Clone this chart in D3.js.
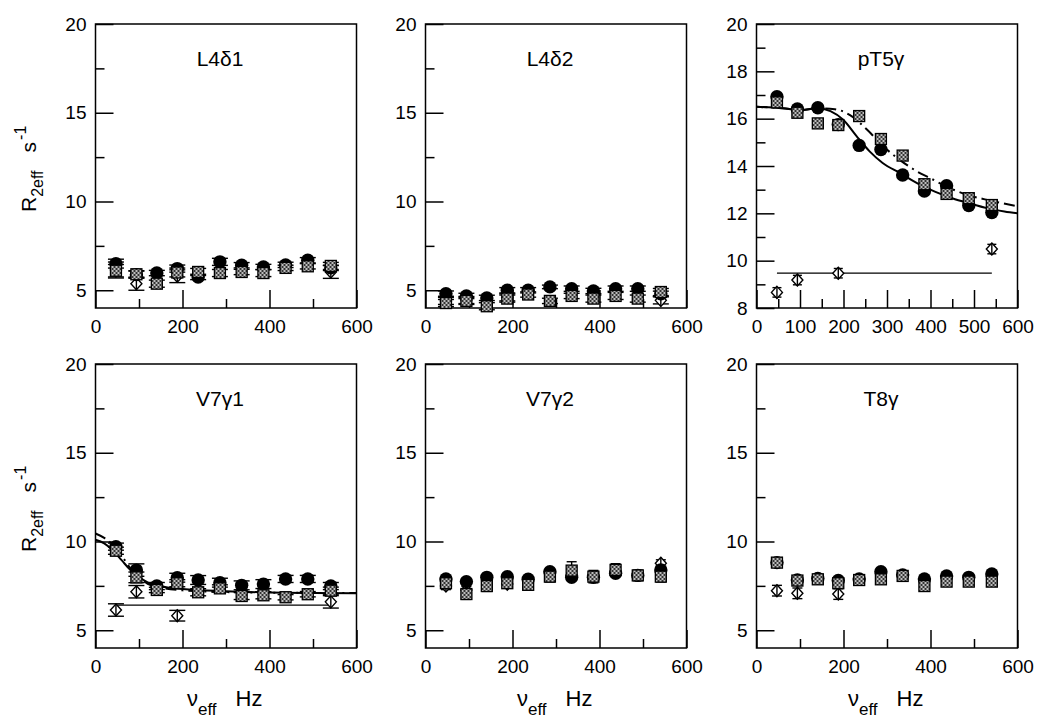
<!DOCTYPE html>
<html><head><meta charset="utf-8">
<script src="https://cdn.jsdelivr.net/npm/d3@7"></script>
<style>
html,body{margin:0;padding:0;background:#fff;}
svg text{font-family:"Liberation Sans",Arial,Helvetica,sans-serif;fill:#000;}
</style></head>
<body>
<svg id="chart" width="1050" height="719"></svg>
<script>
// ---------- data ----------
const xHz = [47, 94, 141, 188, 236, 286, 336, 386, 437, 488, 541];
const diamondHz = [47, 94, 188, 541];
const diamondHzT8 = [47, 94, 188];

const panelTitles = ["L4δ1", "L4δ2", "pT5γ", "V7γ1", "V7γ2", "T8γ"];

// L4δ1
const l4d1Circle = [6.50, 5.88, 5.97, 6.22, 5.75, 6.60, 6.41, 6.31, 6.43, 6.69, 6.26];
const l4d1CircleErr = [0.25, 0.20, 0.15, 0.20, 0.15, 0.20, 0.15, 0.15, 0.15, 0.15, 0.15];
const l4d1Square = [6.10, 5.90, 5.37, 6.00, 6.03, 5.97, 6.03, 5.97, 6.26, 6.35, 6.37];
const l4d1SquareErr = [0.35, 0.20, 0.20, 0.25, 0.20, 0.20, 0.15, 0.20, 0.15, 0.15, 0.20];
const l4d1Diamond = [6.14, 5.37, 5.79, 6.03];
const l4d1DiamondErr = [0.45, 0.37, 0.36, 0.36];

// L4δ2
const l4d2Circle = [4.81, 4.68, 4.57, 5.00, 5.00, 5.19, 5.09, 4.96, 5.09, 5.09, 4.80];
const l4d2CircleErr = [0.15, 0.15, 0.15, 0.15, 0.15, 0.10, 0.15, 0.15, 0.15, 0.15, 0.15];
const l4d2Square = [4.28, 4.40, 4.10, 4.53, 4.76, 4.40, 4.68, 4.53, 4.68, 4.53, 4.90];
const l4d2SquareErr = [0.20, 0.20, 0.20, 0.20, 0.15, 0.15, 0.15, 0.20, 0.20, 0.20, 0.20];
const l4d2Diamond = [4.40, 4.45, 4.60, 4.43];
const l4d2DiamondErr = [0.20, 0.20, 0.20, 0.20];

// pT5γ
const pt5Circle = [16.93, 16.41, 16.46, 15.75, 14.87, 14.70, 13.62, 12.94, 13.17, 12.33, 12.03];
const pt5CircleErr = [0.08, 0.08, 0.08, 0.08, 0.08, 0.08, 0.08, 0.08, 0.08, 0.08, 0.08];
const pt5Square = [16.69, 16.25, 15.80, 15.73, 16.11, 15.14, 14.44, 13.23, 12.82, 12.64, 12.35];
const pt5SquareErr = [0.08, 0.08, 0.08, 0.08, 0.08, 0.08, 0.08, 0.08, 0.08, 0.08, 0.08];
const pt5Diamond = [8.66, 9.18, 9.47, 10.49];
const pt5DiamondErr = [0.2, 0.2, 0.2, 0.2];
const pt5FitCircle = [[0,16.50],[60,16.44],[100,16.36],[140,16.44],[170,16.32],[200,15.94],[230,15.26],[260,14.62],[290,14.13],[330,13.70],[370,13.27],[410,12.92],[450,12.64],[490,12.42],[530,12.22],[570,12.08],[600,12.00]];
const pt5FitSquare = [[0,16.50],[60,16.44],[100,16.36],[140,16.44],[180,16.40],[215,16.15],[255,15.52],[292,14.82],[330,14.25],[370,13.76],[400,13.48],[445,13.06],[485,12.78],[525,12.59],[560,12.45],[600,12.30]];
const pt5FitDiamond = [[47,9.47],[541,9.47]];

// V7γ1
const v7g1Circle = [9.71, 8.39, 7.49, 7.96, 7.83, 7.68, 7.53, 7.60, 7.89, 7.89, 7.49];
const v7g1CircleErr = [0.20, 0.35, 0.20, 0.25, 0.25, 0.25, 0.25, 0.25, 0.20, 0.20, 0.20];
const v7g1Square = [9.48, 7.98, 7.27, 7.65, 7.14, 7.36, 6.93, 6.97, 6.86, 7.03, 7.23];
const v7g1SquareErr = [0.20, 0.30, 0.15, 0.20, 0.20, 0.20, 0.20, 0.20, 0.15, 0.15, 0.20];
const v7g1Diamond = [6.14, 7.17, 5.82, 6.60];
const v7g1DiamondErr = [0.35, 0.35, 0.30, 0.35];
const v7g1FitCircle = [[0,10.10],[20,9.90],[40,9.50],[60,8.95],[80,8.40],[100,8.00],[120,7.70],[150,7.48],[200,7.33],[300,7.20],[400,7.13],[500,7.10],[600,7.08]];
const v7g1FitSquare = [[0,10.45],[20,10.20],[40,9.80],[60,9.20],[80,8.50],[100,7.95],[120,7.62],[150,7.40],[200,7.25],[300,7.15],[400,7.12],[600,7.10]];
const v7g1FitDiamond = [[47,6.42],[541,6.42]];

// V7γ2
const v7g2Circle = [7.89, 7.74, 7.98, 8.02, 7.87, 8.30, 7.98, 7.98, 8.21, 8.09, 8.40];
const v7g2CircleErr = [0.10, 0.10, 0.10, 0.10, 0.10, 0.10, 0.10, 0.10, 0.10, 0.10, 0.10];
const v7g2Square = [7.65, 7.04, 7.49, 7.65, 7.56, 8.02, 8.36, 8.02, 8.40, 8.09, 8.02];
const v7g2SquareErr = [0.20, 0.30, 0.30, 0.25, 0.30, 0.30, 0.50, 0.35, 0.35, 0.30, 0.30];
const v7g2Diamond = [7.49, 7.27, 7.60, 8.77];
const v7g2DiamondErr = [0.20, 0.20, 0.20, 0.20];

// T8γ
const t8Circle = [8.81, 7.83, 7.92, 7.80, 7.89, 8.30, 8.12, 7.89, 8.06, 7.98, 8.17];
const t8CircleErr = [0.08, 0.08, 0.08, 0.08, 0.08, 0.08, 0.08, 0.08, 0.08, 0.08, 0.08];
const t8Square = [8.81, 7.80, 7.87, 7.65, 7.83, 7.87, 8.06, 7.49, 7.74, 7.74, 7.74];
const t8SquareErr = [0.08, 0.08, 0.08, 0.08, 0.08, 0.08, 0.08, 0.08, 0.08, 0.08, 0.08];
const t8Diamond = [7.23, 7.08, 7.04];
const t8DiamondErr = [0.30, 0.30, 0.30];

// ticks
const yMajorStd = [5, 10, 15, 20], yMinorStd = [7.5, 12.5, 17.5];
const yMajorPT5 = [8, 10, 12, 14, 16, 18, 20], yMinorPT5 = [9, 11, 13, 15, 17, 19];
const xMajorStd = [0, 200, 400, 600], xMinorStd = [100, 300, 500];
const xMajorPT5 = [0, 100, 200, 300, 400, 500, 600], xMinorPT5 = [50, 150, 250, 350, 450, 550];

// ---------- panel table built from the arrays ----------
const panels = [
  {title: panelTitles[0], circ: l4d1Circle, circErr: l4d1CircleErr, sq: l4d1Square, sqErr: l4d1SquareErr, diaX: diamondHz, dia: l4d1Diamond, diaErr: l4d1DiamondErr, yDom: [4, 20], yMaj: yMajorStd, yMin: yMinorStd, xMaj: xMajorStd, xMin: xMinorStd, fits: []},
  {title: panelTitles[1], circ: l4d2Circle, circErr: l4d2CircleErr, sq: l4d2Square, sqErr: l4d2SquareErr, diaX: diamondHz, dia: l4d2Diamond, diaErr: l4d2DiamondErr, yDom: [4, 20], yMaj: yMajorStd, yMin: yMinorStd, xMaj: xMajorStd, xMin: xMinorStd, fits: []},
  {title: panelTitles[2], circ: pt5Circle, circErr: pt5CircleErr, sq: pt5Square, sqErr: pt5SquareErr, diaX: diamondHz, dia: pt5Diamond, diaErr: pt5DiamondErr, yDom: [8, 20], yMaj: yMajorPT5, yMin: yMinorPT5, xMaj: xMajorPT5, xMin: xMinorPT5,
    fits: [{d: pt5FitCircle, dash: null, w: 2}, {d: pt5FitSquare, dash: "11,5,2,5", w: 2}, {d: pt5FitDiamond, dash: null, w: 1.3}]},
  {title: panelTitles[3], circ: v7g1Circle, circErr: v7g1CircleErr, sq: v7g1Square, sqErr: v7g1SquareErr, diaX: diamondHz, dia: v7g1Diamond, diaErr: v7g1DiamondErr, yDom: [4, 20], yMaj: yMajorStd, yMin: yMinorStd, xMaj: xMajorStd, xMin: xMinorStd,
    fits: [{d: v7g1FitCircle, dash: null, w: 2}, {d: v7g1FitSquare, dash: "11,5,2,5", w: 2}, {d: v7g1FitDiamond, dash: null, w: 1.3}]},
  {title: panelTitles[4], circ: v7g2Circle, circErr: v7g2CircleErr, sq: v7g2Square, sqErr: v7g2SquareErr, diaX: diamondHz, dia: v7g2Diamond, diaErr: v7g2DiamondErr, yDom: [4, 20], yMaj: yMajorStd, yMin: yMinorStd, xMaj: xMajorStd, xMin: xMinorStd, fits: []},
  {title: panelTitles[5], circ: t8Circle, circErr: t8CircleErr, sq: t8Square, sqErr: t8SquareErr, diaX: diamondHzT8, dia: t8Diamond, diaErr: t8DiamondErr, yDom: [4, 20], yMaj: yMajorStd, yMin: yMinorStd, xMaj: xMajorStd, xMin: xMinorStd, fits: []}
];

// ---------- layout ----------
const colX = [95.5, 425.5, 756.5];
const rowY = [24, 364];
const PW = 261, PH = 284;
const capW = [16, 16, 9, 16, 10, 10];

const svg = d3.select("#chart");
const defs = svg.append("defs");
const pat = defs.append("pattern").attr("id", "checker").attr("patternUnits", "userSpaceOnUse")
  .attr("width", 4).attr("height", 4);
pat.append("rect").attr("width", 4).attr("height", 4).attr("fill", "#bdbdbd");
pat.append("rect").attr("width", 2).attr("height", 2).attr("fill", "#333");
pat.append("rect").attr("x", 2).attr("y", 2).attr("width", 2).attr("height", 2).attr("fill", "#333");

panels.forEach((p, i) => {
  const col = i % 3, row = Math.floor(i / 3);
  const g = svg.append("g").attr("transform", `translate(${colX[col]},${rowY[row]})`);
  const x = d3.scaleLinear().domain([0, 600]).range([0, PW]);
  const y = d3.scaleLinear().domain(p.yDom).range([PH, 0]);

  const styleAxis = sel => {
    sel.select(".domain").remove();
    sel.selectAll("line").attr("stroke", "#000").attr("stroke-width", 1.5);
    sel.selectAll("text").attr("font-size", 19).attr("font-family", "Liberation Sans, Arial, sans-serif");
  };
  g.append("g").attr("transform", `translate(0,${PH})`)
    .call(d3.axisBottom(x).tickValues(p.xMaj).tickSize(-18).tickPadding(11.5).tickFormat(d3.format("d")))
    .call(styleAxis);
  g.append("g").attr("transform", `translate(0,${PH})`)
    .call(d3.axisBottom(x).tickValues(p.xMin).tickSize(-9).tickFormat(""))
    .call(styleAxis);
  g.append("g")
    .call(d3.axisLeft(y).tickValues(p.yMaj).tickSize(-18).tickPadding(9).tickFormat(d3.format("d")))
    .call(styleAxis);
  g.append("g")
    .call(d3.axisLeft(y).tickValues(p.yMin).tickSize(-9).tickFormat(""))
    .call(styleAxis);

  g.append("rect").attr("width", PW).attr("height", PH).attr("fill", "none")
    .attr("stroke", "#000").attr("stroke-width", 1.5);

  g.append("text").attr("x", PW / 2 - 6).attr("y", 42).attr("text-anchor", "middle")
    .attr("font-size", 21).text(p.title);

  const line = d3.line().x(d => x(d[0])).y(d => y(d[1])).curve(d3.curveMonotoneX);
  p.fits.forEach(f => {
    g.append("path").datum(f.d).attr("d", line).attr("fill", "none")
      .attr("stroke", "#000").attr("stroke-width", f.w)
      .attr("stroke-dasharray", f.dash);
  });

  const cw = capW[i];
  const errbars = (xs, vs, es) => {
    const eg = g.append("g").attr("stroke", "#000").attr("stroke-width", 1.4);
    xs.forEach((xv, k) => {
      const cx = x(xv), lo = y(vs[k] - es[k]), hi = y(vs[k] + es[k]);
      eg.append("line").attr("x1", cx).attr("x2", cx).attr("y1", lo).attr("y2", hi);
      eg.append("line").attr("x1", cx - cw / 2).attr("x2", cx + cw / 2).attr("y1", lo).attr("y2", lo);
      eg.append("line").attr("x1", cx - cw / 2).attr("x2", cx + cw / 2).attr("y1", hi).attr("y2", hi);
    });
  };

  // diamonds
  errbars(p.diaX, p.dia, p.diaErr);
  const diaPts = p.diaX.map((xv, k) => [xv, p.dia[k]]);
  g.append("g").selectAll("path").data(diaPts).join("path")
    .attr("d", d => { const cx = x(d[0]), cy = y(d[1]);
      return `M${cx},${cy - 6}L${cx + 5.5},${cy}L${cx},${cy + 6}L${cx - 5.5},${cy}Z`; })
    .attr("fill", "#fff").attr("stroke", "#000").attr("stroke-width", 1.4);
  g.append("g").selectAll("line").data(diaPts).join("line")
    .attr("x1", d => x(d[0])).attr("x2", d => x(d[0]))
    .attr("y1", d => y(d[1]) - 6).attr("y2", d => y(d[1]) + 6)
    .attr("stroke", "#000").attr("stroke-width", 1.4);

  // circles
  errbars(xHz, p.circ, p.circErr);
  g.append("g").selectAll("circle").data(xHz.map((xv, k) => [xv, p.circ[k]])).join("circle")
    .attr("cx", d => x(d[0])).attr("cy", d => y(d[1])).attr("r", 6.7).attr("fill", "#000");

  // squares
  errbars(xHz, p.sq, p.sqErr);
  g.append("g").selectAll("rect").data(xHz.map((xv, k) => [xv, p.sq[k]])).join("rect")
    .attr("x", d => x(d[0]) - 5.5).attr("y", d => y(d[1]) - 5.5)
    .attr("width", 11).attr("height", 11)
    .attr("fill", "url(#checker)").attr("stroke", "#000").attr("stroke-width", 1.3);

  if (col === 0) {
    const t = svg.append("text")
      .attr("transform", `translate(36,${rowY[row] + PH / 2 + 46}) rotate(-90)`)
      .attr("font-size", 21);
    t.append("tspan").text("R");
    t.append("tspan").attr("font-size", 16).attr("dy", 7).text("2eff");
    t.append("tspan").attr("dy", -7).attr("dx", 18).text("s");
    t.append("tspan").attr("font-size", 16).attr("dy", -10).attr("dx", 2).text("-1");
  }
  if (row === 1) {
    const t = svg.append("text").attr("x", colX[col] + PW / 2 - 39).attr("y", 706).attr("font-size", 22);
    t.append("tspan").text("ν");
    t.append("tspan").attr("font-size", 17).attr("dy", 9).text("eff");
    t.append("tspan").attr("dy", -9).attr("dx", 19).text("Hz");
  }
});
</script>
</body></html>
